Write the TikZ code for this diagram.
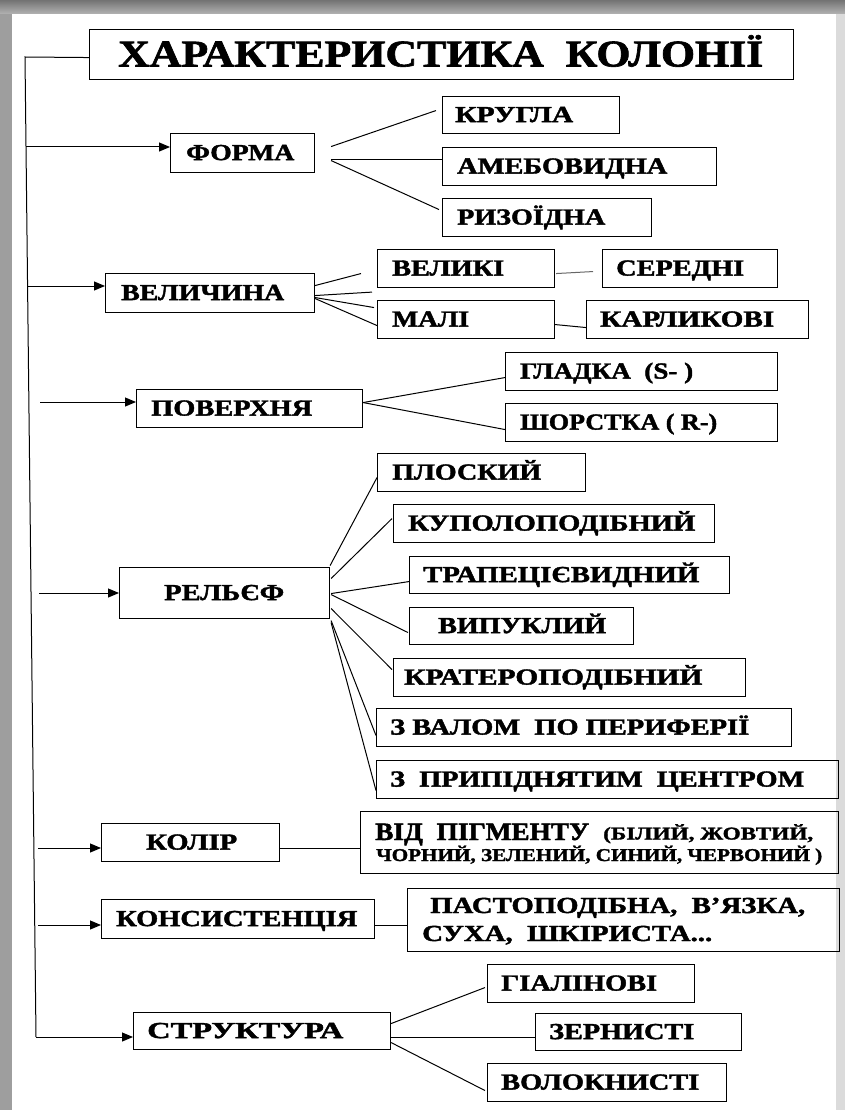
\documentclass[tikz,border=0pt]{standalone}
\usepackage{fontspec}
\newfontfamily\tnr{Liberation Serif}[BoldFeatures={FakeBold=1.6}]
\usetikzlibrary{arrows.meta,calc}
\tikzset{
  box/.style={draw=black, line width=1.1pt, inner sep=0pt, anchor=north west},
  lbl/.style={font=\tnr\bfseries\fontsize{23}{26}\selectfont, inner sep=0pt, anchor=west, text height=15.2pt, text depth=0pt},
  ttl/.style={font=\tnr\bfseries\fontsize{37.8}{42}\selectfont, inner sep=0pt, anchor=west, text height=25pt, text depth=0pt},
  bigl/.style={font=\tnr\bfseries\fontsize{25}{28}\selectfont, inner sep=0pt, anchor=base west},
  smal/.style={font=\tnr\bfseries\fontsize{18}{21}\selectfont, inner sep=0pt, anchor=base west},
  midl/.style={font=\tnr\bfseries\fontsize{23}{26}\selectfont, inner sep=0pt, anchor=base west},
  con/.style={line width=1pt, draw=black},
  arr/.style={con, -{Triangle[length=11pt,width=9pt]}},
}
% name x1 y1 x2 y2 textx textwidth text
\newcommand\bx[9][lbl]{%
  \node[box, minimum width={#5-#3}, minimum height={#6-#4}] (#2) at (#3,#4) {};
  \node[#1] (#2-t) at (#7,{(#4+#6)/2}) {\resizebox{#8pt}{\height}{#9}};
}
\begin{document}
\begin{tikzpicture}[x=1pt,y=-1pt]
\useasboundingbox (0,0) rectangle (845,1110);
% page frame
\fill[black!38] (0,0) rectangle (845,1110);
\fill[white] (12,14) rectangle (836,1110);
\shade[top color=black!55, bottom color=black!30] (0,0) rectangle (845,14);
\fill[black!14] (836,14) rectangle (845,1110);

% boxes
\bx[ttl]{title}{89}{29}{793}{79}{118}{645}{ХАРАКТЕРИСТИКА\ \ КОЛОНІЇ}
\bx{forma}{170}{133}{314}{172}{186}{108}{ФОРМА}
\bx{krugla}{442}{96}{619}{133}{455}{118}{КРУГЛА}
\bx{amebo}{442}{147}{716}{185}{457}{210}{АМЕБОВИДНА}
\bx{ryzo}{442}{198}{651}{236}{457}{148}{РИЗОЇДНА}
\bx{velych}{105}{273}{314}{312}{121}{163}{ВЕЛИЧИНА}
\bx{velyki}{377}{249}{554}{287}{392}{112}{ВЕЛИКІ}
\bx{seredni}{602}{249}{777}{287}{616}{128}{СЕРЕДНІ}
\bx{mali}{377}{300}{554}{338}{392}{77}{МАЛІ}
\bx{karlyk}{586}{300}{808}{338}{600}{174}{КАРЛИКОВІ}
\bx{poverkh}{136}{389}{362}{427}{151}{161}{ПОВЕРХНЯ}
\bx{hladka}{505}{352}{777}{390}{520}{173}{ГЛАДКА\ \ (S- )}
\bx{shorst}{505}{403}{777}{441}{520}{197}{ШОРСТКА ( R-)}
\bx{relief}{119}{567}{329}{618}{164}{120}{РЕЛЬЄФ}
\bx{plosk}{377}{453}{585}{491}{392}{149}{ПЛОСКИЙ}
\bx{kupolo}{393}{504}{714}{542}{408}{287}{КУПОЛОПОДІБНИЙ}
\bx{trapez}{409}{556}{729}{593}{423}{276}{ТРАПЕЦІЄВИДНИЙ}
\bx{vypukl}{409}{607}{633}{644}{438}{168}{ВИПУКЛИЙ}
\bx{krater}{393}{658}{745}{696}{404}{298}{КРАТЕРОПОДІБНИЙ}
\bx{valom}{376}{708}{791}{746}{390}{359}{З ВАЛОМ\ \ ПО ПЕРИФЕРІЇ}
\bx{prypid}{376}{760}{838}{798}{390}{414}{З\ \ ПРИПІДНЯТИМ\ \ ЦЕНТРОМ}
\bx{kolir}{101}{823}{279}{861}{146}{91}{КОЛІР}
\bx{konsyst}{101}{899}{374}{938}{116}{241}{КОНСИСТЕНЦІЯ}
\bx{struct}{133}{1012}{390}{1049}{147}{196}{СТРУКТУРА}
\bx{hial}{487}{964}{694}{1002}{501}{156}{ГІАЛІНОВІ}
\bx{zern}{535}{1013}{741}{1050}{549}{145}{ЗЕРНИСТІ}
\bx{volok}{487}{1063}{726}{1101}{501}{198}{ВОЛОКНИСТІ}

% pigment box
\node[box, minimum width=478, minimum height=62] (vid) at (360,811) {};
\node[bigl] (vid-t1) at (375,840) {\resizebox{214pt}{\height}{ВІД\ \ ПІГМЕНТУ}};
\node[smal] (vid-t2) at (603,839.5) {\resizebox{210pt}{\height}{(БІЛИЙ, ЖОВТИЙ,}};
\node[smal] (vid-t3) at (376,861) {\resizebox{446pt}{\height}{ЧОРНИЙ, ЗЕЛЕНИЙ, СИНИЙ, ЧЕРВОНИЙ )}};
% consistency box
\node[box, minimum width=432, minimum height=63] (pasto) at (407,888) {};
\node[midl] (pasto-t1) at (430,913) {\resizebox{375pt}{\height}{ПАСТОПОДІБНА,\ \ В’ЯЗКА,}};
\node[midl] (pasto-t2) at (422,941) {\resizebox{290pt}{\height}{СУХА,\ \ ШКІРИСТА...}};

% trunk
\coordinate (top) at (25,57);
\coordinate (bot) at (36,1037);
\draw[con] ($(title.west)+(0,3)$) -- (top) -- (bot);
\coordinate (a1) at (26,147);
\coordinate (a2) at (27,286);
\coordinate (a3) at (40,402);
\coordinate (a4) at (39,593);
\coordinate (a5) at (38,848);
\coordinate (a6) at (38,925);
\draw[arr] (a1) -- (a1 -| forma.west);
\draw[arr] (a2) -- (a2 -| velych.west);
\draw[arr] (a3) -- (a3 -| poverkh.west);
\draw[arr] (a4) -- (a4 -| relief.west);
\draw[arr] (a5) -- (a5 -| kolir.west);
\draw[arr] (a6) -- (a6 -| konsyst.west);
\draw[arr] (bot) -- (bot -| struct.west);

% form
\draw[con] ($(forma.east)+(16,-6.5)$) -- ($(krugla.west)+(-6,-4.5)$);
\draw[con] ($(forma.east)+(16,6.5)$) -- ($(amebo.west)+(0,-7)$);
\draw[con] ($(forma.east)+(16,7.5)$) -- ($(ryzo.west)+(-3,-8)$);
% size
\draw[con] ($(velych.east)+(0,-7.5)$) -- ($(velyki.west)+(-16,5)$);
\draw[con] ($(velych.east)+(0,2.5)$) -- ($(velyki.south west)+(-5,4)$);
\draw[con] ($(velych.east)+(0,4.5)$) -- ($(mali.west)+(-3,-12)$);
\draw[con] ($(velych.east)+(0,5.5)$) -- ($(mali.west)+(0,6)$);
\draw[con, draw=black!60] ($(velyki.east)+(1,5)$) -- ($(seredni.west)+(-9,3)$);
\draw[con] ($(mali.east)+(0,5)$) -- ($(karlyk.west)+(0,8)$);
% surface
\draw[con] ($(poverkh.east)+(0,-6)$) -- ($(hladka.west)+(0,6)$);
\draw[con] ($(poverkh.east)+(0,-6)$) -- ($(shorst.west)+(0,7)$);
% relief
\draw[con] ($(relief.east)+(0,-27.5)$) -- ($(plosk.west)+(0,5)$);
\draw[con] ($(relief.east)+(1,-14.5)$) -- ($(kupolo.west)+(-1,-5)$);
\draw[con] ($(relief.east)+(1,0.5)$) -- ($(trapez.west)+(0,6.5)$);
\draw[con] ($(relief.east)+(1,1.5)$) -- ($(vypukl.west)+(-1,6.5)$);
\draw[con] ($(relief.east)+(1,15.5)$) -- ($(krater.west)+(-1,-8)$);
\draw[con] ($(relief.east)+(1,27.5)$) -- ($(valom.west)+(0,8)$);
\draw[con] ($(relief.east)+(1,29.5)$) -- ($(prypid.west)+(0,11)$);
% colour, consistency
\draw[con] ($(kolir.east)+(0,6)$) -- ($(vid.west)+(0,6)$);
\draw[con] ($(konsyst.east)+(0,6.5)$) -- ($(pasto.west)+(0,5.5)$);
% structure
\draw[con] ($(struct.east)+(0,-7.5)$) -- ($(hial.west)+(-2,4)$);
\draw[con] ($(struct.east)+(0,6.5)$) -- ($(zern.west)+(0,5.5)$);
\draw[con] ($(struct.east)+(0,11.5)$) -- ($(volok.west)+(-2,8)$);
\end{tikzpicture}
\end{document}
